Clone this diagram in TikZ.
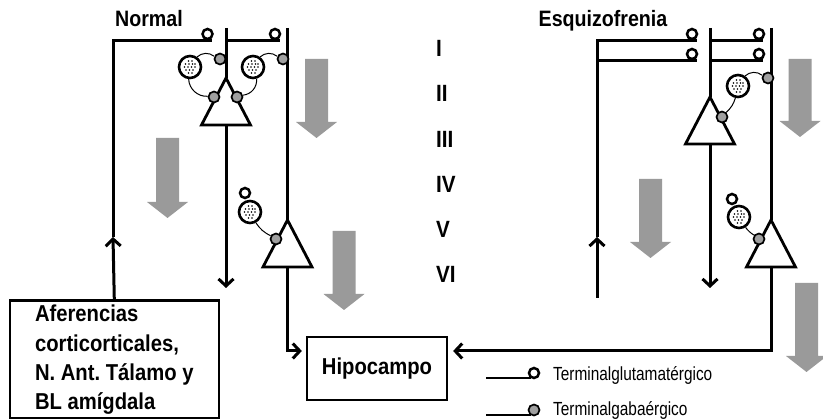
\documentclass[tikz,border=0pt]{standalone}
\usepackage{fontspec}
\newfontfamily\tagfont{Liberation Sans}[FakeStretch=0.88]
\newfontfamily\keyfont{Liberation Sans}[FakeStretch=0.81]
\usetikzlibrary{arrows.meta,positioning,calc}
\definecolor{flowgray}{HTML}{9A9A9A}
\definecolor{gabagray}{HTML}{A0A0A0}

\begin{document}
\begin{tikzpicture}[x=1pt,y=-1pt,
  axon/.style={line width=3pt},
  endbarb/.style={-{Straight Barb[length=7pt,width=15pt]}},
  soma/.style={draw,fill=white,line width=2.8pt},
  glut/.style={circle,draw,fill=white,line width=2.5pt,minimum size=10pt,inner sep=0pt},
  gaba/.style={circle,draw,fill=gabagray,line width=1.7pt,minimum size=11pt,inner sep=0pt},
  inter/.style={circle,draw,fill=white,line width=2.6pt,minimum size=22pt,inner sep=0pt},
  syn/.style={line width=1pt},
  boxed/.style={draw,line width=2.6pt,font=\tagfont\bfseries\fontsize{23}{29.3}\selectfont\frenchspacing},
  headline/.style={font=\tagfont\bfseries\fontsize{22.3}{26}\selectfont,anchor=base,inner sep=0pt},
  laminar/.style={font=\tagfont\bfseries\fontsize{23.5}{28}\selectfont,anchor=base west,inner sep=0pt},
  legendtext/.style={font=\keyfont\fontsize{19}{22}\selectfont,anchor=base west,inner sep=0pt}]
  \useasboundingbox (0,0) rectangle (823,419);
  % boxes
  \node[boxed,anchor=north west,minimum width=209pt,minimum height=118pt,align=left] (aff)
    at (8.5,299.5) {Aferencias\\corticorticales,\\N. Ant. Tálamo y\\BL amígdala};
  \node[boxed,line width=2.3pt,minimum width=140pt,minimum height=63pt] (hip) at (377,368.5) {Hipocampo};
  % big grey arrows
  \foreach \ax/\at/\ab in {316.5/59/138, 167.5/138/218, 344/231/310, 800/59/137, 650.5/179/258, 806.5/283/372}
    \fill[flowgray] (\ax-11.5,\at) -- (\ax+11.5,\at) -- (\ax+11.5,\ab-16) -- (\ax+20.5,\ab-16)
      -- (\ax,\ab) -- (\ax-20.5,\ab-16) -- (\ax-11.5,\ab-16) -- cycle;
  % normal: fibres
  \coordinate (nA) at (113,41);
  \coordinate (nAm) at (113,237);
  \coordinate (nAe) at (212,41);
  \coordinate (n2t) at (226,28);
  \coordinate (n2h) at (226,41);
  \coordinate (n2e) at (279.5,41);
  \coordinate (pN1) at (226,78);
  \coordinate (pN1b) at (226,125);
  \coordinate (n2b) at (226,288);
  \coordinate (n3t) at (287.5,28);
  \coordinate (pN2) at (287.5,220);
  \coordinate (pN2b) at (287.5,267);
  \coordinate (nH) at (287.5,351);
  \draw[axon,endbarb] (aff.north) -- (nAm);
  \draw[axon] (nAm) -- (nA) -- (nAe);
  \draw[axon] (n2t) -- (pN1);
  \draw[axon] (n2h) -- (n2e);
  \draw[axon,endbarb] (pN1b) -- (n2b);
  \draw[axon] (n3t) -- (pN2);
  \draw[axon,endbarb,shorten >=4pt] (pN2b) -- (nH) -- (nH -| hip.west);
  % esquizofrenia: fibres
  \coordinate (eA) at (597,41);
  \coordinate (eB) at (597,61);
  \coordinate (eAm) at (597,237);
  \coordinate (eAb) at (597,298);
  \coordinate (eAe) at (697,41);
  \coordinate (eBe) at (697,61);
  \coordinate (e2t) at (710,28);
  \coordinate (e2h) at (710,41);
  \coordinate (e2k) at (710,61);
  \coordinate (e2e) at (763,41);
  \coordinate (e2f) at (763,61);
  \coordinate (pE1) at (710,97);
  \coordinate (pE1b) at (710,145);
  \coordinate (e2b) at (710,288);
  \coordinate (e3t) at (771,28);
  \coordinate (pE2) at (771,220);
  \coordinate (pE2b) at (771,267);
  \coordinate (eH) at (771,351);
  \draw[axon,endbarb] (eAb) -- (eAm);
  \draw[axon] (eAm) -- (eA) -- (eAe);
  \draw[axon] (eB) -- (eBe);
  \draw[axon] (e2t) -- (pE1);
  \draw[axon] (e2h) -- (e2e);
  \draw[axon] (e2k) -- (e2f);
  \draw[axon,endbarb] (pE1b) -- (e2b);
  \draw[axon] (e3t) -- (pE2);
  \draw[axon,endbarb,shorten >=5pt] (pE2b) -- (eH) -- (eH -| hip.east);
  % pyramidal cells
  \foreach \p in {pN1,pN2,pE1,pE2}
    \draw[soma] (\p) -- ++(-24.5,47) -- ++(49,0) -- cycle;
  % normal: terminals and interneurons
  \node[glut] (tN1) at (207.5,34) {};
  \node[glut] (tN2) at (275,34) {};
  \node[inter] (iN1) at (190,67) {};
  \node[inter] (iN2) at (253,67) {};
  \node[gaba] (gN1) at (220,59) {};
  \node[gaba] (gN2) at (283,59) {};
  \node[gaba] (gN3) at (214,97) {};
  \node[gaba] (gN4) at (237,97) {};
  \node[glut] (tN3) at (245,193) {};
  \node[inter] (iN3) at (250,212) {};
  \node[gaba] (gN5) at (276,239) {};
  \draw[syn] (iN1) to[bend left=40] (gN1);
  \draw[syn] (iN1) to[bend right=45] (gN3);
  \draw[syn] (iN2) to[bend left=45] (gN4);
  \draw[syn] (iN2) to[bend left=40] (gN2);
  \draw[syn] (iN3) to[bend right=15] (gN5);
  % esquizofrenia: terminals and interneurons
  \node[glut] (tE1) at (692,34) {};
  \node[glut] (tE2) at (692,54) {};
  \node[glut] (tE3) at (759,34) {};
  \node[glut] (tE4) at (759,54) {};
  \node[inter] (iE1) at (738,86) {};
  \node[gaba] (gE1) at (768,78) {};
  \node[gaba] (gE2) at (722,117) {};
  \node[glut] (tE5) at (732,199) {};
  \node[inter] (iE2) at (739,217) {};
  \node[gaba] (gE3) at (759,239) {};
  \draw[syn] (iE1) to[bend left=40] (gE1);
  \draw[syn] (iE1) to[bend left=15] (gE2);
  \draw[syn] (iE2) to[bend right=10] (gE3);
  % vesicles inside the interneurons
  \foreach \n in {iN1,iN2,iN3,iE1,iE2}
    \foreach \dx/\dy in {-1.5/-6,2/-6,-4.5/-3,-1/-3,2.5/-3,5/-3,-5.5/0,-2/0,1.5/0,5/0,-4/3,-0.5/3,3/3,-1.5/6,2/6}
      \fill (\n.center) ++(\dx,\dy) circle (0.95pt);
  % titles and layers
  \node[headline] (tNorm) at (149,27) {Normal};
  \node[headline] (tEsq) at (603,27) {Esquizofrenia};
  \foreach \r [count=\k from 0] in {I,II,III,IV,V,VI}
    \node[laminar] (L\k) at (436,{56.5+45.3*\k}) {\r};
  % legend
  \coordinate (kGs) at (486,378);
  \coordinate (kGe) at (531,378);
  \coordinate (kBs) at (486,415);
  \coordinate (kBe) at (531,415);
  \draw[line width=2.2pt] (kGs) -- (kGe);
  \draw[line width=2.2pt] (kBs) -- (kBe);
  \node[glut] (kG) at (534,373) {};
  \node[gaba] (kB) at (534,410) {};
  \node[legendtext] (kGt) at (553,380.5) {Terminalglutamatérgico};
  \node[legendtext] (kBt) at (553,415.5) {Terminalgabaérgico};
\end{tikzpicture}
\end{document}
